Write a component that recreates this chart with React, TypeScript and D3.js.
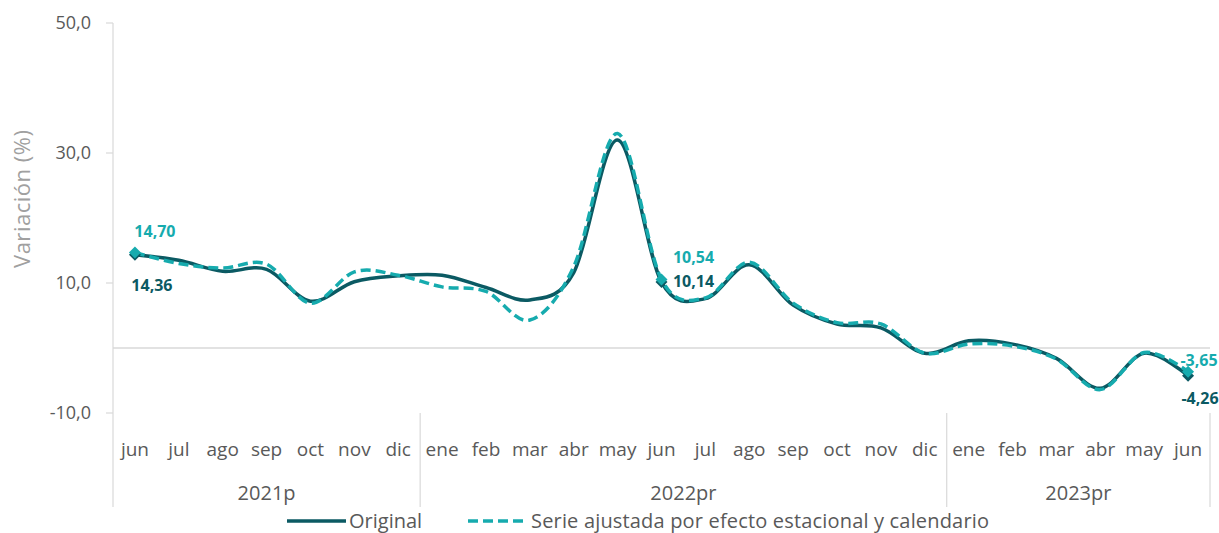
import React from "react";
import * as d3 from "d3";

const months = [
  "jun", "jul", "ago", "sep", "oct", "nov", "dic",
  "ene", "feb", "mar", "abr", "may", "jun", "jul", "ago", "sep", "oct", "nov", "dic",
  "ene", "feb", "mar", "abr", "may", "jun",
];
const years = [
  { label: "2021p", count: 7 },
  { label: "2022pr", count: 12 },
  { label: "2023pr", count: 6 },
];
const original = [
  14.36, 13.5, 11.8, 12.1, 7.2, 10.2, 11.1, 11.2, 9.3, 7.4, 11.6, 32.0, 10.14,
  7.6, 12.8, 6.6, 3.7, 3.1, -0.8, 1.1, 0.6, -1.6, -6.2, -0.8, -4.26,
];
const adjusted = [
  14.7, 13.0, 12.3, 12.9, 6.9, 11.7, 11.2, 9.4, 8.7, 4.3, 12.5, 33.0, 10.54,
  7.7, 13.2, 6.9, 3.9, 3.7, -0.8, 0.6, 0.3, -1.7, -6.4, -0.7, -3.65,
];
const yTicks = [-10, 10, 30, 50];
// indices with data labels
const labelled = [0, 12, 24];

const DARK = "#0b5a63";
const TEAL = "#16abae";
const FONT = "'Open Sans', 'Noto Sans', sans-serif";

const fmt = (v: number) => v.toFixed(2).replace(".", ",");

const App: React.FC = () => {
  const width = 1219;
  const height = 533;
  const margin = { top: 23, right: 9, bottom: 120, left: 113 };

  const x = d3
    .scaleBand<number>()
    .domain(months.map((_, i) => i))
    .range([margin.left, width - margin.right]);
  const y = d3
    .scaleLinear()
    .domain([-10, 50])
    .range([height - margin.bottom, margin.top]);

  const cx = (i: number) => (x(i) || 0) + x.bandwidth() / 2;

  const line = d3
    .line<number>()
    .x((_, i) => cx(i))
    .y((d) => y(d))
    .curve(d3.curveCatmullRom.alpha(0));

  const axisBottom = y(-10);
  const sepBottom = axisBottom + 94;

  let acc = 0;
  const groups = years.map((g) => {
    const start = acc;
    acc += g.count;
    return { ...g, start, end: acc };
  });

  const diamond = (px: number, py: number, r: number) =>
    `M${px},${py - r}L${px + r},${py}L${px},${py + r}L${px - r},${py}Z`;

  // label offsets from the point: o = adjusted series, a = original series
  const labelPos: Record<number, { o: [number, number]; a: [number, number] }> = {
    0: { o: [20, -21], a: [17, 31] },
    12: { o: [32, -22], a: [32, -1] },
    24: { o: [11, -11], a: [12, 23] },
  };

  return (
    <div style={{ position: "absolute", left: 0, top: 0 }}>
      <svg width={width} height={height} style={{ display: "block", fontFamily: FONT }}>
        {/* y axis */}
        <line x1={margin.left} x2={margin.left} y1={margin.top} y2={sepBottom} stroke="#d9d9d9" strokeWidth={1.2} />
        {yTicks.map((t) => (
          <g key={t}>
            <line x1={margin.left - 7} x2={margin.left} y1={y(t)} y2={y(t)} stroke="#d9d9d9" strokeWidth={1.2} />
            <text x={margin.left - 22} y={y(t)} dy="0.35em" textAnchor="end" fontSize={18} fill="#595959">
              {t.toFixed(1).replace(".", ",")}
            </text>
          </g>
        ))}
        <text
          transform="translate(30,199) rotate(-90)"
          textAnchor="middle"
          fontSize={22}
          fill="#a0a0a0"
          textLength={138}
          lengthAdjust="spacing"
        >
          Variación (%)
        </text>

        {/* zero line */}
        <line x1={margin.left} x2={width - margin.right} y1={y(0)} y2={y(0)} stroke="#d9d9d9" strokeWidth={1.5} />

        {/* category axis */}
        {months.map((m, i) => (
          <text key={i} x={cx(i)} y={axisBottom + 36} dy="0.35em" textAnchor="middle" fontSize={19} fill="#595959">
            {m}
          </text>
        ))}
        {groups.map((g) => (
          <g key={g.label}>
            {g.start > 0 && (
              <line x1={x(g.start) || 0} x2={x(g.start) || 0} y1={axisBottom} y2={sepBottom} stroke="#d9d9d9" strokeWidth={1.2} />
            )}
            <text
              x={((x(g.start) || 0) + (x(g.end - 1) || 0) + x.bandwidth()) / 2}
              y={axisBottom + 80}
              dy="0.35em"
              textAnchor="middle"
              fontSize={20}
              fill="#595959"
            >
              {g.label}
            </text>
          </g>
        ))}
        <line
          x1={width - margin.right}
          x2={width - margin.right}
          y1={axisBottom}
          y2={sepBottom}
          stroke="#d9d9d9"
          strokeWidth={1.2}
        />

        {/* series */}
        <path d={line(original) || ""} fill="none" stroke={DARK} strokeWidth={3.5} />
        <path d={line(adjusted) || ""} fill="none" stroke={TEAL} strokeWidth={3.5} strokeDasharray="10,5" />

        {labelled.map((i) => (
          <g key={i}>
            <path d={diamond(cx(i), y(original[i]), 6)} fill={DARK} />
            <path d={diamond(cx(i), y(adjusted[i]), 6)} fill={TEAL} />
            <text
              x={cx(i) + labelPos[i].o[0]}
              y={y(adjusted[i]) + labelPos[i].o[1]}
              dy="0.35em"
              textAnchor="middle"
              fontSize={16}
              fontWeight={700}
              fill={TEAL}
            >
              {fmt(adjusted[i])}
            </text>
            <text
              x={cx(i) + labelPos[i].a[0]}
              y={y(original[i]) + labelPos[i].a[1]}
              dy="0.35em"
              textAnchor="middle"
              fontSize={16}
              fontWeight={700}
              fill={DARK}
            >
              {fmt(original[i])}
            </text>
          </g>
        ))}

        {/* legend */}
        <g transform="translate(287,521)">
          <line x1={0} x2={59} y1={0} y2={0} stroke={DARK} strokeWidth={3.5} />
          <text x={62} y={0} dy="0.35em" fontSize={20} fill="#595959">
            Original
          </text>
          <line x1={181} x2={241} y1={0} y2={0} stroke={TEAL} strokeWidth={3.5} strokeDasharray="10,5" />
          <text x={244} y={0} dy="0.35em" fontSize={20} fill="#595959" textLength={458} lengthAdjust="spacing">
            Serie ajustada por efecto estacional y calendario
          </text>
        </g>
      </svg>
    </div>
  );
};

export default App;
